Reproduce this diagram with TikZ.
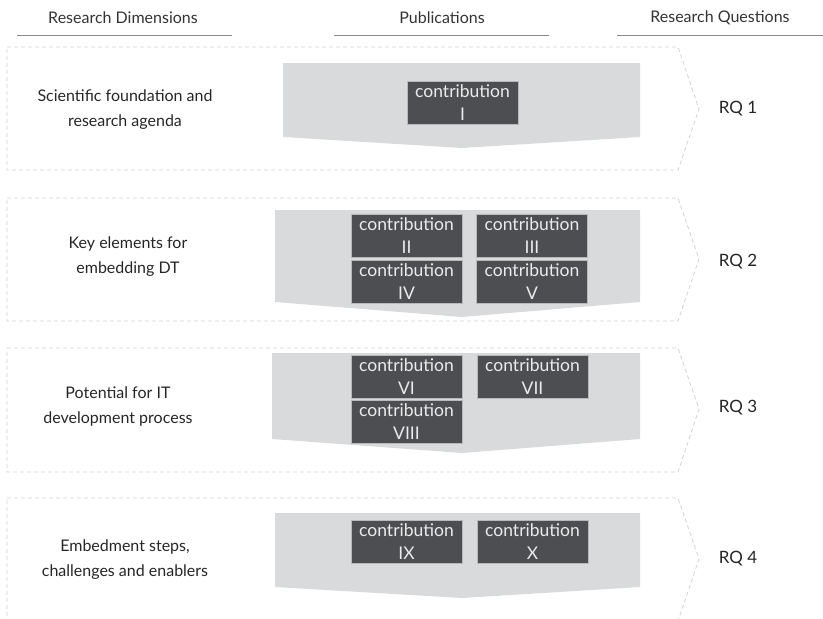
\documentclass[tikz,border=0pt]{standalone}
\usepackage{fontspec}
\setmainfont{Lato}
\usepackage{tikz}
\usepackage{xcolor}
\usetikzlibrary{positioning}

\definecolor{chevgray}{HTML}{D9DADB}
\definecolor{boxdark}{HTML}{4D4E52}
\definecolor{dashgray}{HTML}{D2D2D2}
\definecolor{rulegray}{HTML}{8A8A8A}

\begin{document}
\begin{tikzpicture}[x=1pt, y=-1pt,
        contrib/.style={rectangle, draw=gray!55, line width=0.6pt, fill=boxdark, text=white!92!black,
            minimum width=111pt, minimum height=43pt, inner sep=0pt, align=center,
            font=\fontsize{17.5}{23}\selectfont},
        dimtext/.style={align=center, text=black!85, font=\fontsize{16}{25}\selectfont},
        headtext/.style={text=black!80, font=\fontsize{16}{19}\selectfont},
        rqtext/.style={text=black!85, font=\fontsize{17}{20}\selectfont},
        frame/.style={draw=dashgray, line width=0.8pt, dash pattern=on 4pt off 3pt},
        chevron/.style={fill=chevgray}]
        \useasboundingbox (0, 0) rectangle (823, 619);
        \clip (0, 0) rectangle (823, 619);

        % headers
        \node[headtext] (hdim) at (123, 18) {Research Dimensions};
        \node[headtext] (hpub) at (442, 18) {Publications};
        \node[headtext] (hrq) at (720, 18) {Research Questions};
        \draw[rulegray, line width=0.9pt] (17, 35) -- (232, 35)
            (334, 35) -- (549, 35)
            (617, 35) -- (823, 35);

        % dashed frames
        \draw[frame] (7, 47) -- (678, 47) -- (699, 109) -- (678, 170) -- (7, 170) -- cycle;
        \draw[frame] (7, 198) -- (678, 198) -- (699, 259) -- (678, 321) -- (7, 321) -- cycle;
        \draw[frame] (7, 348) -- (678, 348) -- (699, 409) -- (678, 472) -- (7, 472) -- cycle;
        \draw[frame] (7, 498) -- (678, 498) -- (699, 559) -- (678, 621) -- (7, 621) -- cycle;

        % gray chevrons
        \fill[chevron] (283, 63) -- (640, 63) -- (640, 137) -- (462, 148) -- (283, 137) -- cycle;
        \fill[chevron] (275, 210) -- (640, 210) -- (640, 302) -- (462, 317) -- (275, 302) -- cycle;
        \fill[chevron] (272, 353) -- (640, 353) -- (640, 439) -- (462, 453) -- (272, 439) -- cycle;
        \fill[chevron] (275, 513) -- (640, 513) -- (640, 587) -- (462, 598) -- (275, 587) -- cycle;

        % research dimensions
        \node[dimtext] (dim1) at (125, 110) {Scientific foundation and\\research agenda};
        \node[dimtext] (dim2) at (128, 257) {Key elements for\\embedding DT};
        \node[dimtext] (dim3) at (118, 406) {Potential for IT\\development process};
        \node[dimtext] (dim4) at (125, 560) {Embedment steps,\\challenges and enablers};

        % contributions
        \node[contrib] (c1) at (462.5, 103) {contribution\\I};
        \node[contrib] (c2) at (406.5, 236) {contribution\\II};
        \node[contrib] (c3) at (532, 236) {contribution\\III};
        \node[contrib] (c4) at (406.5, 281.5) {contribution\\IV};
        \node[contrib] (c5) at (532, 281.5) {contribution\\V};
        \node[contrib] (c6) at (406.5, 376.5) {contribution\\VI};
        \node[contrib] (c7) at (532.5, 376.5) {contribution\\VII};
        \node[contrib] (c8) at (406.5, 421.5) {contribution\\VIII};
        \node[contrib] (c9) at (406.5, 541.5) {contribution\\IX};
        \node[contrib] (c10) at (532.5, 541.5) {contribution\\X};

        % research questions
        \node[rqtext] (rq1) at (738, 109) {RQ 1};
        \node[rqtext] (rq2) at (738, 262) {RQ 2};
        \node[rqtext] (rq3) at (738, 408) {RQ 3};
        \node[rqtext] (rq4) at (738, 559) {RQ 4};
    \end{tikzpicture}
\end{document}
